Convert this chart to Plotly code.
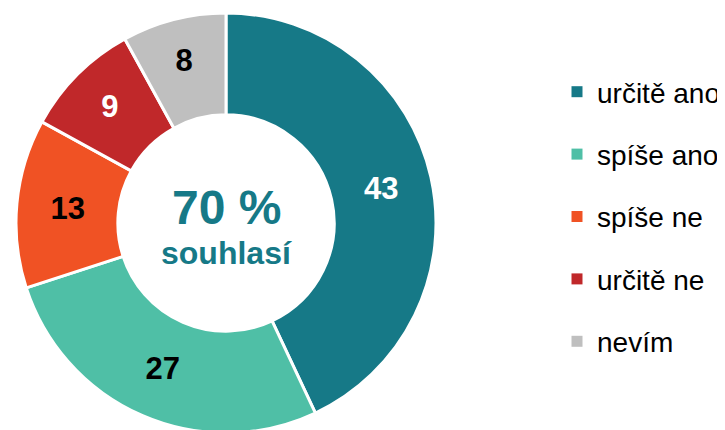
import plotly.graph_objects as go

categories = ["určitě ano", "spíše ano", "spíše ne", "určitě ne", "nevím"]
values = [43, 27, 13, 9, 8]
colors = ["#167987", "#4FBFA6", "#F05224", "#C0282A", "#BFBFBF"]
label_colors = ["white", "black", "black", "white", "black"]
center_big = "70 %"
center_small = "souhlasí"

FONT = "Liberation Sans, Arial, sans-serif"
W, H = 725, 430
CX, R = 218, 210  # figure px (page has an 8px body margin)

fig = go.Figure()
fig.add_trace(go.Pie(
    labels=categories, values=values, sort=False, direction="clockwise", rotation=0,
    hole=0.515, marker=dict(colors=colors, line=dict(color="white", width=3)),
    textinfo="value", textposition="inside", insidetextorientation="horizontal",
    textfont=dict(family=FONT, size=31, color=label_colors, weight="bold"),
    domain=dict(x=[(CX - R) / W, (CX + R) / W], y=[0, 1]), showlegend=False,
    hoverinfo="label+value",
))

for cat, col in zip(categories, colors):
    fig.add_trace(go.Scatter(
        x=[None], y=[None], mode="markers", name=cat, legendgroup=cat,
        marker=dict(symbol="square", size=11, color=col), showlegend=True,
    ))

fig.add_annotation(x=CX / W, y=1 - 199 / H, xref="paper", yref="paper", text=center_big,
                   xanchor="center", yanchor="middle",
                   showarrow=False, font=dict(family=FONT, size=48, color=colors[0], weight="bold"))
fig.add_annotation(x=CX / W, y=1 - 245 / H, xref="paper", yref="paper", text=center_small,
                   xanchor="center", yanchor="middle",
                   showarrow=False, font=dict(family=FONT, size=32, color=colors[0], weight="bold"))

fig.update_layout(
    width=W, height=H, margin=dict(l=0, r=0, t=0, b=0),
    paper_bgcolor="white", plot_bgcolor="white",
    xaxis=dict(visible=False), yaxis=dict(visible=False),
    legend=dict(x=549 / W, y=1 - 59 / H, xanchor="left", yanchor="top",
                font=dict(family=FONT, size=28, color="black"), tracegroupgap=23,
                itemwidth=30),
)

fig.write_html("out.html")
